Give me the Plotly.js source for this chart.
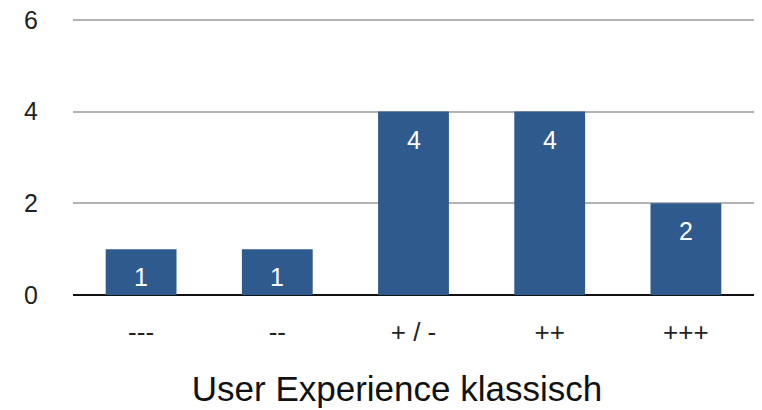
<!DOCTYPE html>
<html>
<head>
<meta charset="utf-8">
<script src="https://cdn.plot.ly/plotly-3.0.1.min.js"></script>
<style>
  html, body { margin: 0; padding: 0; background: #fff; }
  #chart { width: 762px; height: 410px; }
</style>
</head>
<body>
<div id="chart"></div>
<script>
// Ratings and number of answers per rating
const categories = ['---', '--', '+ / -', '++', '+++'];
const counts = [1, 1, 4, 4, 2];
const yTicks = [0, 2, 4, 6];
const chartTitle = 'User Experience klassisch';

const barColor = '#2e5a8e';
const font = 'Liberation Sans, Arial, sans-serif';

const trace = {
  type: 'bar',
  x: categories,
  y: counts,
  marker: { color: barColor, line: { width: 0 } },
  hoverinfo: 'none'
};

// Value labels sit inside each bar, just below its top
const labels = categories.map((c, i) => ({
  x: c,
  y: counts[i],
  xref: 'x',
  yref: 'y',
  text: String(counts[i]),
  showarrow: false,
  yanchor: 'middle',
  yshift: -28,
  font: { family: font, size: 25, color: '#ffffff' }
}));

const layout = {
  width: 762,
  height: 410,
  margin: { l: 73, r: 8, t: 18, b: 115 },
  paper_bgcolor: '#ffffff',
  plot_bgcolor: '#ffffff',
  bargap: 0.48,
  showlegend: false,
  font: { family: font, color: '#222222' },
  title: {
    text: chartTitle,
    font: { family: font, size: 35, color: '#111111' },
    x: 0.521,
    xanchor: 'center',
    xref: 'container',
    y: 0.052,
    yref: 'container',
    yanchor: 'middle'
  },
  xaxis: {
    type: 'category',
    showgrid: false,
    zeroline: false,
    showline: false,
    ticks: '',
    tickfont: { family: font, size: 26, color: '#222222' },
    ticklabelstandoff: 19
  },
  yaxis: {
    range: [0, 6.04],
    tickvals: yTicks,
    ticktext: yTicks.map(String),
    showgrid: true,
    gridcolor: '#b3b3b3',
    gridwidth: 2,
    zeroline: true,
    zerolinecolor: '#111111',
    zerolinewidth: 2,
    showline: false,
    ticks: '',
    tickfont: { family: font, size: 25, color: '#222222' },
    ticklabelstandoff: 34
  },
  annotations: labels
};

Plotly.newPlot('chart', [trace], layout, { staticPlot: true, displayModeBar: false });
</script>
</body>
</html>
